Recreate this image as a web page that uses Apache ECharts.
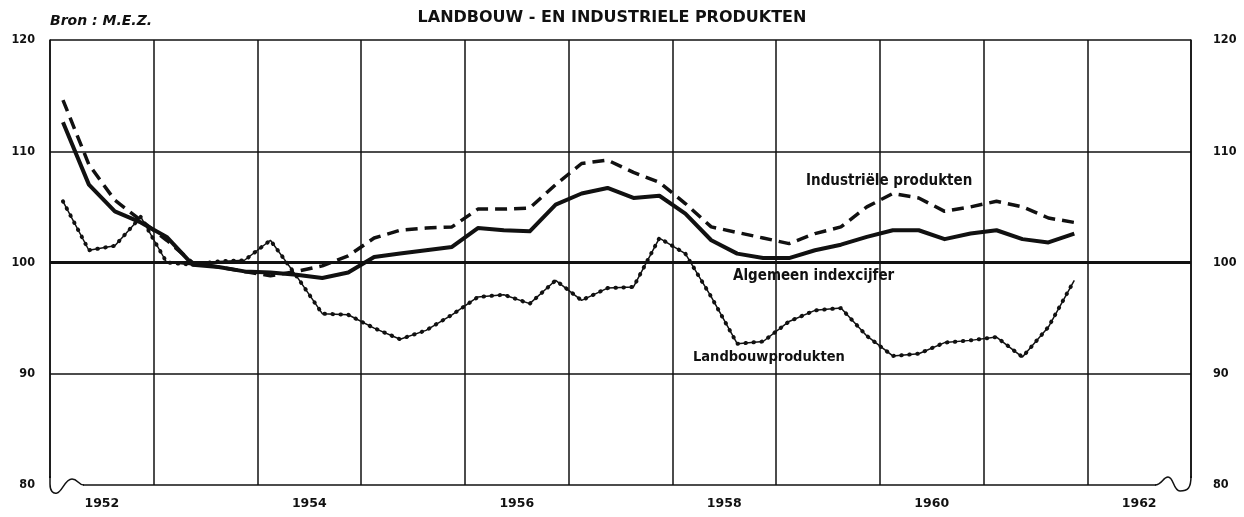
<!DOCTYPE html>
<html>
<head>
<meta charset="utf-8">
<script src="https://cdn.jsdelivr.net/npm/echarts@6/dist/echarts.min.js"></script>
<style>
	html, body { margin: 0; padding: 0; background: #fff; }
	#main { width: 1244px; height: 517px; }
</style>
</head>
<body>
<div id="main"></div>
<script>
// kwartaalcijfers 1952 - 1961 (index, 100 = basis)
var firstYear = 1952;
var yearLabels = [1952, 1954, 1956, 1958, 1960, 1962];
var yTicks = [80, 90, 100, 110, 120];

var algemeen = [112.6, 107.0, 104.6, 103.6, 102.3, 99.8, 99.6, 99.2, 99.1, 98.9,
	98.6, 99.1, 100.5, 100.8, 101.1, 101.4, 103.1, 102.9, 102.8, 105.2,
	106.2, 106.7, 105.8, 106.0, 104.4, 102.0, 100.8, 100.4, 100.4, 101.1,
	101.6, 102.3, 102.9, 102.9, 102.1, 102.6, 102.9, 102.1, 101.8, 102.6];

var industrie = [114.6, 108.8, 105.6, 103.8, 102.0, 100.0, 99.6, 99.2, 98.8, 99.2,
	99.7, 100.6, 102.2, 102.9, 103.1, 103.2, 104.8, 104.8, 104.9, 107.0,
	108.9, 109.2, 108.1, 107.2, 105.3, 103.2, 102.7, 102.2, 101.7, 102.6,
	103.2, 105.0, 106.2, 105.8, 104.6, 105.0, 105.5, 105.0, 104.0, 103.6];

var landbouw = [105.5, 101.1, 101.5, 104.1, 100.0, 99.8, 100.1, 100.2, 102.0, 98.8,
	95.4, 95.3, 94.1, 93.1, 93.9, 95.3, 96.9, 97.1, 96.3, 98.4,
	96.6, 97.7, 97.8, 102.2, 100.8, 96.9, 92.7, 92.9, 94.7, 95.7,
	95.9, 93.4, 91.6, 91.8, 92.8, 93.0, 93.3, 91.5, 94.2, 98.4];

// elk kwartaal in het midden van het kwartaal plaatsen
function toPoints(values){
	return values.map(function(v, i){
		return [firstYear + (i + 0.5) / 4, v];
	});
}

var ink = '#111';
var numFont = '"DejaVu Sans Condensed"';

// kleine hulpjes voor het breuksymbool en de teksten
function curve(x1, y1, c1x, c1y, c2x, c2y, x2, y2){
	return {
		type: 'bezierCurve', z: 101,
		shape: { x1: x1, y1: y1, cpx1: c1x, cpy1: c1y, cpx2: c2x, cpy2: c2y, x2: x2, y2: y2 },
		style: { fill: null, stroke: ink, lineWidth: 1.5 }
	};
}
function txt(x, y, s, font, align){
	return {
		type: 'text', x: x, y: y, z: 100,
		style: { text: s, fill: ink, font: font, align: align || 'left', verticalAlign: 'middle' }
	};
}

var myChart = echarts.init(document.getElementById('main'));

var option = {
	animation: false,
	backgroundColor: '#fff',
	grid: { left: 50, right: 53, top: 40, bottom: 32 },
	xAxis: [{
		type: 'value', min: 1952, max: 1963, interval: 1,
		axisLine: { show: false }, axisTick: { show: false }, axisLabel: { show: false },
		splitLine: { show: true, lineStyle: { color: ink, width: 1.5 } }
	}, {
		type: 'value', min: 1952, max: 1963, interval: 0.5, position: 'bottom',
		axisLine: { show: false }, axisTick: { show: false }, splitLine: { show: false },
		axisLabel: {
			margin: 12, color: ink, fontSize: 12.5, fontWeight: 'bold', fontFamily: 'DejaVu Sans',
			formatter: function(v){
				var y = Math.floor(v);
				if (Math.abs(v - y - 0.5) < 1e-6 && yearLabels.indexOf(y) >= 0) {
					return String(y);
				}
				return '';
			}
		}
	}],
	yAxis: [{
		type: 'value', min: yTicks[0], max: yTicks[yTicks.length - 1], interval: 10, position: 'left',
		axisLine: { show: true, lineStyle: { color: ink, width: 1.5 } }, axisTick: { show: false },
		splitLine: { show: true, lineStyle: { color: ink, width: 1.5 } },
		axisLabel: { margin: 15, color: ink, fontSize: 12.5, fontWeight: 'bold', fontFamily: 'DejaVu Sans Condensed' }
	}, {
		type: 'value', min: yTicks[0], max: yTicks[yTicks.length - 1], interval: 10, position: 'right',
		axisLine: { show: true, lineStyle: { color: ink, width: 1.5 } }, axisTick: { show: false },
		splitLine: { show: false },
		axisLabel: { margin: 22, color: ink, fontSize: 12.5, fontWeight: 'bold', fontFamily: 'DejaVu Sans Condensed' }
	}],
	series: [{
		name: 'Algemeen indexcijfer', type: 'line', data: toPoints(algemeen),
		symbol: 'none', z: 5,
		lineStyle: { color: ink, width: 4, join: 'round' },
		markLine: {
			silent: true, symbol: 'none', label: { show: false },
			lineStyle: { color: ink, width: 3, type: 'solid' },
			data: [{ yAxis: 100 }]
		}
	}, {
		name: 'Industriële produkten', type: 'line', data: toPoints(industrie),
		symbol: 'none', z: 4,
		lineStyle: { color: ink, width: 3.5, type: [12, 7] }
	}, {
		name: 'Landbouwprodukten', type: 'line', data: toPoints(landbouw),
		symbol: 'none', z: 3,
		lineStyle: { color: ink, width: 1.5 }
	}, {
		// stippen over de landbouwlijn
		name: 'Landbouwprodukten stippen', type: 'line', data: toPoints(landbouw),
		symbol: 'none', z: 3,
		lineStyle: { color: ink, width: 4, type: [0.5, 7.5], cap: 'round' }
	}],
	graphic: [
		txt(50, 21, 'Bron : M.E.Z.', 'italic bold 14px "DejaVu Sans"'),
		txt(612, 18, 'LANDBOUW - EN INDUSTRIELE PRODUKTEN', 'bold 16px "DejaVu Sans"', 'center'),
		txt(806, 181, 'Industriële produkten', 'bold 15px ' + numFont),
		txt(733, 276, 'Algemeen indexcijfer', 'bold 15px ' + numFont),
		txt(693, 357, 'Landbouwprodukten', 'bold 14.5px ' + numFont),
		// breuksymbool links onder
		{ type: 'rect', z: 100, shape: { x: 47, y: 478, width: 36, height: 20 }, style: { fill: '#fff' } },
		{ type: 'line', z: 101, shape: { x1: 50, y1: 476, x2: 50, y2: 484 }, style: { stroke: ink, lineWidth: 1.5 } },
		curve(50, 484, 50, 491, 53, 494, 57, 493),
		curve(57, 493, 62, 492, 65, 479, 72, 479),
		curve(72, 479, 78, 479, 78, 485, 84, 485),
		// breuksymbool rechts onder
		{ type: 'rect', z: 100, shape: { x: 1156, y: 478, width: 38, height: 20 }, style: { fill: '#fff' } },
		curve(1155, 485, 1162, 485, 1163, 477, 1168, 477),
		curve(1168, 477, 1174, 477, 1173, 491, 1180, 491),
		curve(1180, 491, 1188, 491, 1191, 488, 1191, 476)
	]
};

myChart.setOption(option);
</script>
</body>
</html>
